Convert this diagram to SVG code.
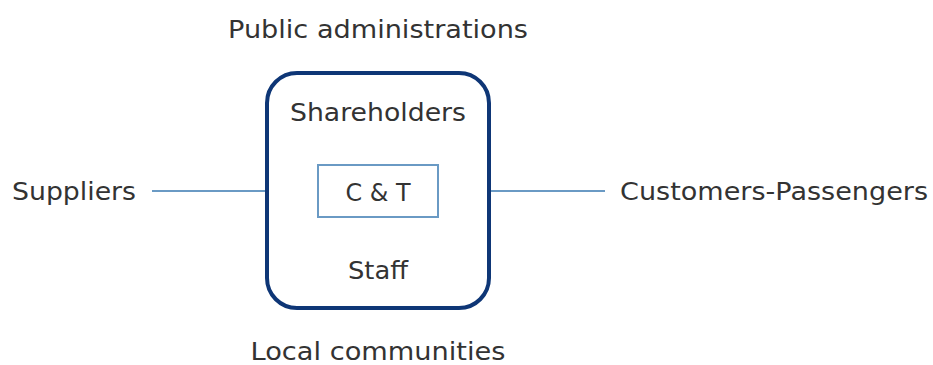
<svg xmlns="http://www.w3.org/2000/svg" width="933" height="365" viewBox="0 0 933 365">
  <style>
    .lbl { font-family: "DejaVu Sans", "Noto Sans", "Liberation Sans", sans-serif; font-size: 24px; fill: #333333; }
    .mid { text-anchor: middle; }
    .link { stroke: #6a9ac4; stroke-width: 2; fill: none; }
  </style>
  <rect width="933" height="365" fill="#ffffff"/>
  <g id="connectors">
    <line class="link" x1="152" y1="191" x2="266" y2="191"/>
    <line class="link" x1="490" y1="191" x2="605" y2="191"/>
  </g>
  <g id="company">
    <rect x="267" y="73" width="222" height="235" rx="30" ry="30" fill="#ffffff" stroke="#0e3676" stroke-width="4"/>
    <text class="lbl mid" x="378" y="121" textLength="176" lengthAdjust="spacingAndGlyphs">Shareholders</text>
    <text class="lbl mid" x="378" y="279" textLength="60" lengthAdjust="spacingAndGlyphs">Staff</text>
  </g>
  <g id="ct">
    <rect x="318" y="165" width="120" height="52" fill="#ffffff" stroke="#6a9ac4" stroke-width="2"/>
    <text class="lbl mid" x="378" y="201" textLength="65" lengthAdjust="spacingAndGlyphs">C &amp; T</text>
  </g>
  <g id="public-administrations">
    <text class="lbl mid" x="378" y="38" textLength="300" lengthAdjust="spacingAndGlyphs">Public administrations</text>
  </g>
  <g id="local-communities">
    <text class="lbl mid" x="378" y="360" textLength="255" lengthAdjust="spacingAndGlyphs">Local communities</text>
  </g>
  <g id="suppliers">
    <text class="lbl" x="12" y="200" textLength="124" lengthAdjust="spacingAndGlyphs">Suppliers</text>
  </g>
  <g id="customers">
    <text class="lbl" x="620" y="200" textLength="308" lengthAdjust="spacingAndGlyphs">Customers-Passengers</text>
  </g>
</svg>
